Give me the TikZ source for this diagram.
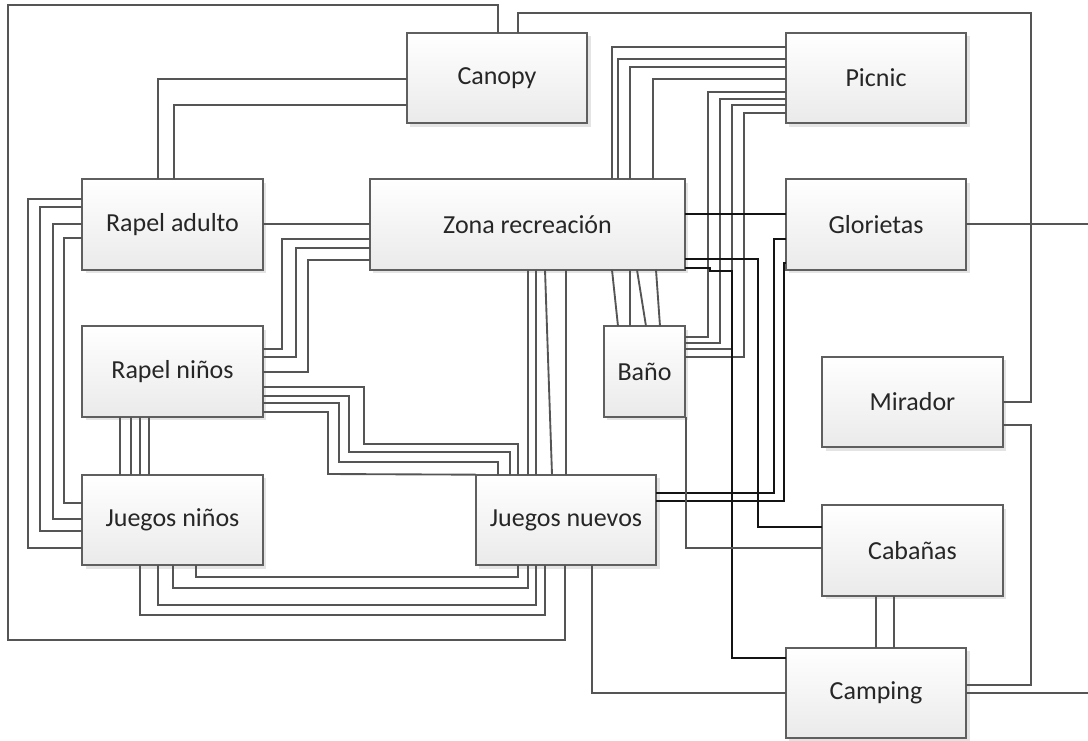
\documentclass[tikz,border=0pt]{standalone}
\usepackage{fontspec}
\setmainfont{Carlito}
\usetikzlibrary{shadows}
\definecolor{boxline}{RGB}{95,95,95}
\definecolor{conn}{RGB}{85,85,85}
\definecolor{dconn}{RGB}{20,20,20}
\definecolor{boxbot}{RGB}{234,234,234}
\begin{document}
\begin{tikzpicture}[x=0.75pt,y=-0.75pt,
  box/.style={draw=boxline, line width=1.4pt, top color=white, bottom color=boxbot,
    minimum width=135.5pt, minimum height=68pt, inner sep=0pt, outer sep=0pt,
    font=\fontsize{19.5}{23}\selectfont, text=black!85,
    drop shadow={shadow xshift=2.5pt, shadow yshift=-2.5pt, opacity=0.3, fill=black!35}},
  ln/.style={draw=conn, line width=1.4pt},
  dk/.style={draw=dconn, line width=1.4pt}]
\useasboundingbox (0,0) rectangle (1088,740);

% boxes
\node[box] (canopy) at (497,78) {Canopy};
\node[box] (picnic) at (876,78) {Picnic};
\node[box] (rapela) at (172.5,224.5) {Rapel adulto};
\node[box, minimum width=236.25pt] (zona) at (527.5,224.5) {Zona recreación};
\node[box] (glor) at (876,224.5) {Glorietas};
\node[box] (rapeln) at (172.5,371.5) {Rapel niños};
\node[box, minimum width=60.75pt] (bano) at (644.5,371.5) {Baño};
\node[box] (mirador) at (912.5,402) {Mirador};
\node[box] (jninos) at (172.5,520) {Juegos niños};
\node[box] (jnuevos) at (566,520) {Juegos nuevos};
\node[box] (cabanas) at (912.5,550.5) {Cabañas};
\node[box] (camping) at (876,693) {Camping};

\coordinate (e1) at (1088,224);
\coordinate (e2) at (1088,693);

% outer loops
\draw[ln] (canopy.north -| 498,0) -- (498,5) -- (8,5) -- (8,640) -- (565,640) -- (jnuevos.south -| 565,0);
\draw[ln] (canopy.north -| 518,0) -- (518,13) -- (1031,13) -- (1031,402) -- (mirador.east |- 0,402);

% canopy -> rapel adulto
\draw[ln] (canopy.west |- 0,79) -- (158,79) -- (rapela.north -| 158,0);
\draw[ln] (canopy.west |- 0,105) -- (174,105) -- (rapela.north -| 174,0);

% rapel adulto -> zona
\draw[ln] (rapela.east |- 0,224) -- (zona.west |- 0,224);

% rapel adulto -> juegos ninos
\foreach \ya/\xx/\yb in {199/28/548, 207/40/531, 224/53/519, 238/64/503}
  \draw[ln] (rapela.west |- 0,\ya) -- (\xx,\ya) -- (\xx,\yb) -- (jninos.west |- 0,\yb);

% rapel ninos -> zona
\foreach \ya/\xx/\yb in {349/282/239, 357/296/248, 372/308/260}
  \draw[ln] (rapeln.east |- 0,\ya) -- (\xx,\ya) -- (\xx,\yb) -- (zona.west |- 0,\yb);

% rapel ninos -> juegos nuevos
\foreach \ya/\xa/\yb/\xb in {387/364/444/518, 396/349/452/510, 403/339/462/498}
  \draw[ln] (rapeln.east |- 0,\ya) -- (\xa,\ya) -- (\xa,\yb) -- (\xb,\yb) -- (jnuevos.north -| \xb,0);
\draw[ln] (rapeln.east |- 0,412) -- (328,412) -- (328,474) -- (jnuevos.north west);

% rapel ninos -> juegos ninos
\foreach \xx in {120,131,140,149}
  \draw[ln] (rapeln.south -| \xx,0) -- (jninos.north -| \xx,0);

% juegos ninos -> juegos nuevos
\foreach \xa/\yy/\xb in {196/577/518, 173/588/528, 158/605/536, 140/615/545}
  \draw[ln] (jninos.south -| \xa,0) -- (\xa,\yy) -- (\xb,\yy) -- (jnuevos.south -| \xb,0);

% zona -> juegos nuevos
\foreach \xx in {528,536,566}
  \draw[ln] (zona.south -| \xx,0) -- (jnuevos.north -| \xx,0);
\draw[ln] (zona.south -| 545,0) -- (jnuevos.north -| 552,0);

% zona -> bano
\foreach \xa/\xb in {612/618, 630/630, 637/646, 656/660}
  \draw[ln] (zona.south -| \xa,0) -- (bano.north -| \xb,0);

% picnic -> zona
\foreach \yy/\xx in {47/612, 59/618, 67/630, 79/653}
  \draw[ln] (picnic.west |- 0,\yy) -- (\xx,\yy) -- (zona.north -| \xx,0);

% picnic -> bano
\foreach \ya/\xx/\yb in {92/708/337, 99/720/343, 105/732/349, 113/744/357}
  \draw[ln] (picnic.west |- 0,\ya) -- (\xx,\ya) -- (\xx,\yb) -- (bano.east |- 0,\yb);

% dark connectors
\draw[dk] (zona.east |- 0,214) -- (glor.west |- 0,214);
\draw[dk] (zona.east |- 0,259) -- (758,259) -- (758,527) -- (cabanas.west |- 0,527);
\draw[dk] (zona.east |- 0,268) -- (710,268) -- (710,271) -- (732,271) -- (732,658) -- (camping.west |- 0,658);
\draw[dk] (glor.west |- 0,239) -- (774,239) -- (774,493) -- (jnuevos.east |- 0,493);
\draw[dk] (glor.west |- 0,263) -- (784,263) -- (784,501) -- (jnuevos.east |- 0,501);

% right side
\draw[ln] (glor.east |- 0,224) -- (e1);
\draw[ln] (mirador.east |- 0,425) -- (1031,425) -- (1031,685) -- (camping.east |- 0,685);
\draw[ln] (camping.east |- 0,693) -- (e2);
\draw[ln] (cabanas.south -| 876,0) -- (camping.north -| 876,0);
\draw[ln] (cabanas.south -| 894,0) -- (camping.north -| 894,0);
\draw[ln] (bano.south -| 686,0) -- (686,548) -- (cabanas.west |- 0,548);
\draw[ln] (jnuevos.south -| 592,0) -- (592,693) -- (camping.west |- 0,693);
\end{tikzpicture}
\end{document}
